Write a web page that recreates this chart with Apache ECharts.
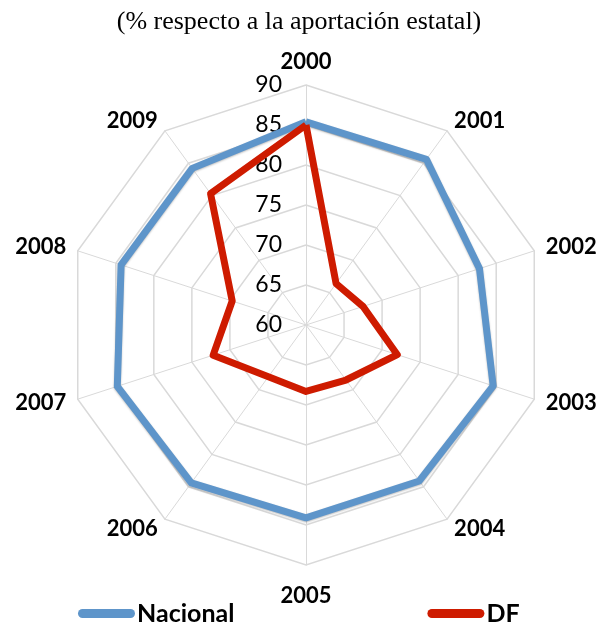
<!DOCTYPE html>
<html>
<head>
<meta charset="utf-8">
<script src="https://cdn.jsdelivr.net/npm/echarts@6/dist/echarts.min.js"></script>
<style>html,body{margin:0;padding:0;background:#fff}#c{width:598px;height:628px}</style>
</head>
<body>
<div id="c"></div>
<script>
var titleText = '(% respecto a la aportación estatal)';
var years = ['2000','2001','2002','2003','2004','2005','2006','2007','2008','2009'];
var nacional = [85.4, 85.6, 82.8, 84.6, 84.1, 84.1, 84.4, 84.8, 84.3, 84.2];
var df = [85.0, 66.4, 67.5, 72.0, 68.5, 68.3, 68.0, 72.2, 69.7, 80.3];
var axisMin = 60, axisMax = 90, axisSplits = 6;
var seriesNames = ['Nacional', 'DF'];

// ECharts lays radar indicators counter-clockwise; reorder so years run clockwise
function cw(arr) { return [arr[0]].concat(arr.slice(1).reverse()); }

var indicators = cw(years).map(function (y, i) {
  var o = { name: y, min: axisMin, max: axisMax };
  o.axisLabel = { show: i === 0 };
  return o;
});

var chart = echarts.init(document.getElementById('c'));
chart.setOption({
  animation: false,
  title: {
    text: titleText, left: 'center', top: 9, padding: 0,
    textStyle: { fontFamily: 'Liberation Serif', fontWeight: 'normal', fontSize: 26, color: '#000' }
  },
  legend: {
    left: 78, top: 601, padding: 0, itemGap: 193,
    itemWidth: 57, itemHeight: 9,
    icon: 'path://M4.5,0 H52.5 A4.5,4.5 0 0 1 52.5,9 H4.5 A4.5,4.5 0 0 1 4.5,0 Z',
    textStyle: { fontFamily: 'Lato', fontWeight: 'bold', fontSize: 25, color: '#000', padding: [0, 0, 0, -3] },
    data: seriesNames
  },
  radar: {
    center: [306, 325], radius: 240, startAngle: 90,
    splitNumber: axisSplits, shape: 'polygon',
    indicator: indicators,
    nameGap: 12,
    axisName: { color: '#000', fontFamily: 'Lato', fontWeight: 'bold', fontSize: 22, padding: [8, 0, 0, 0] },
    axisLine: { lineStyle: { color: '#d9d9d9', width: 1 } },
    splitLine: { lineStyle: { color: '#d9d9d9', width: 1.5 } },
    splitArea: { show: false },
    axisTick: { show: false },
    axisLabel: { color: '#000', fontFamily: 'Lato', fontSize: 23, margin: 24, showMinLabel: true, showMaxLabel: true }
  },
  series: [{
    type: 'radar',
    symbol: 'none',
    data: [
      { name: seriesNames[0], value: cw(nacional),
        lineStyle: { color: '#5E95CA', width: 7, shadowColor: 'rgba(0,0,0,0.25)', shadowBlur: 2, shadowOffsetY: 1 },
        itemStyle: { color: '#5E95CA' } },
      { name: seriesNames[1], value: cw(df),
        lineStyle: { color: '#CE1B00', width: 7 },
        itemStyle: { color: '#CE1B00' } }
    ]
  }]
});
</script>
</body>
</html>
